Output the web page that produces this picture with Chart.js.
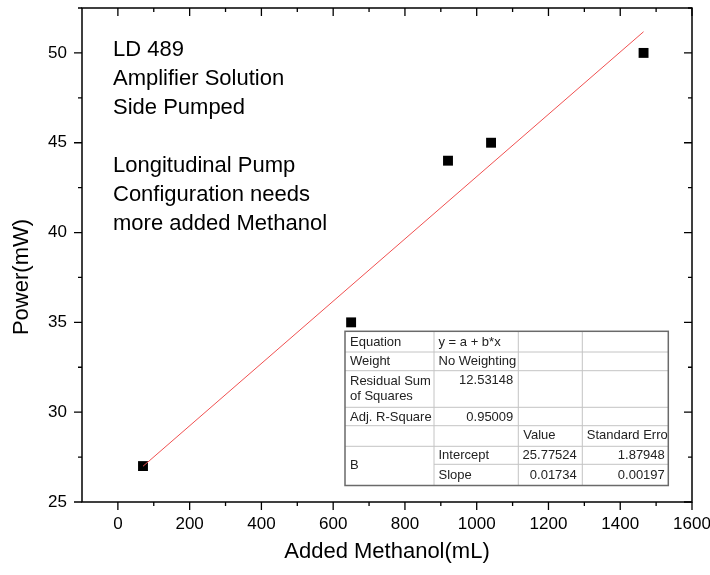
<!DOCTYPE html>
<html>
<head>
<meta charset="utf-8">
<title>Power vs Added Methanol</title>
<script src="https://cdn.jsdelivr.net/npm/chart.js@4.4.0/dist/chart.umd.min.js"></script>
<style>
    html, body { margin: 0; padding: 0; background: #fff; }
    #wrap { position: relative; width: 710px; height: 575px; }
</style>
</head>
<body>
<div id="wrap"><canvas id="powerChart" width="710" height="575"></canvas></div>
<script>
// measured points
const methanol = [70, 650, 920, 1040, 1465];
const power = [27, 35, 44, 45, 50];

// axis ticks
const xTicks = [0, 200, 400, 600, 800, 1000, 1200, 1400, 1600];
const yTicks = [25, 30, 35, 40, 45, 50];
const xMinor = [100, 300, 500, 700, 900, 1100, 1300, 1500];
const yMinor = [27.5, 32.5, 37.5, 42.5, 47.5, 52.5];

// linear fit results (from the stats table)
const fitIntercept = 25.77524;
const fitSlope = 0.01734;

// annotation text
const noteLines = ['LD 489', 'Amplifier Solution', 'Side Pumped', '', 'Longitudinal Pump', 'Configuration needs', 'more added Methanol'];

// stats table
const statLabels = [['Equation'], ['Weight'], ['Residual Sum', 'of Squares'], ['Adj. R-Square']];
const statValues = ['y = a + b*x', 'No Weighting', '12.53148', '0.95009'];
const paramHeader = ['Value', 'Standard Erro'];
const paramNames = ['Intercept', 'Slope'];
const paramValues = ['25.77524', '0.01734'];
const paramErrors = ['1.87948', '0.00197'];

const FONT = '"Liberation Sans", Arial, sans-serif';

const xLo = Math.min(...methanol), xHi = Math.max(...methanol);
const fitLine = [
    { x: xLo, y: fitIntercept + fitSlope * xLo },
    { x: xHi, y: fitIntercept + fitSlope * xHi }
];

// frame, ticks, axis titles, notes
const framePlugin = {
    id: 'frame',
    afterDraw(chart) {
        const ctx = chart.ctx;
        const a = chart.chartArea;
        const xs = chart.scales.x, ys = chart.scales.y;
        ctx.save();
        ctx.strokeStyle = '#000';
        ctx.lineWidth = 1.5;
        ctx.strokeRect(a.left, a.top, a.right - a.left, a.bottom - a.top);

        ctx.lineWidth = 1.3;
        ctx.beginPath();
        const tickX = (v, len) => {
            const px = xs.getPixelForValue(v);
            ctx.moveTo(px, a.bottom); ctx.lineTo(px, a.bottom + len);
            ctx.moveTo(px, a.top); ctx.lineTo(px, a.top + len);
        };
        const tickY = (v, len) => {
            const py = ys.getPixelForValue(v);
            ctx.moveTo(a.left, py); ctx.lineTo(a.left - len, py);
            ctx.moveTo(a.right, py); ctx.lineTo(a.right - len, py);
        };
        xTicks.forEach(v => tickX(v, 8));
        xMinor.forEach(v => tickX(v, 4));
        yTicks.forEach(v => tickY(v, 8));
        yMinor.forEach(v => tickY(v, 4));
        ctx.stroke();

        ctx.fillStyle = '#000';
        ctx.font = '22px ' + FONT;
        ctx.textAlign = 'center';
        ctx.textBaseline = 'middle';
        ctx.fillText('Added Methanol(mL)', (a.left + a.right) / 2, 552);
        ctx.save();
        ctx.translate(22, 277);
        ctx.rotate(-Math.PI / 2);
        ctx.fillText('Power(mW)', 0, 0);
        ctx.restore();

        ctx.textAlign = 'left';
        noteLines.forEach((t, i) => ctx.fillText(t, 113, 50 + i * 29));
        ctx.restore();
    }
};

// Origin-style parameter table
const tablePlugin = {
    id: 'statsTable',
    afterDraw(chart) {
        const ctx = chart.ctx;
        const cols = [345, 434, 518.3, 582.3, 668.3];
        const rows = [331.3, 352, 370.7, 407.3, 425.7, 446.3, 464.3, 485.5];
        ctx.save();
        ctx.fillStyle = '#fff';
        ctx.fillRect(cols[0], rows[0], cols[4] - cols[0], rows[7] - rows[0]);

        ctx.strokeStyle = '#c4c4c4';
        ctx.lineWidth = 1;
        ctx.beginPath();
        for (let i = 1; i < rows.length - 1; i++) {
            const x0 = i === 6 ? cols[1] : cols[0];
            ctx.moveTo(x0, rows[i]); ctx.lineTo(cols[4], rows[i]);
        }
        for (let j = 1; j < cols.length - 1; j++) {
            ctx.moveTo(cols[j], rows[0]); ctx.lineTo(cols[j], rows[7]);
        }
        ctx.stroke();
        ctx.strokeStyle = '#6a6a6a';
        ctx.lineWidth = 1.5;
        ctx.strokeRect(cols[0], rows[0], cols[4] - cols[0], rows[7] - rows[0]);

        ctx.fillStyle = '#222';
        ctx.font = '13px ' + FONT;
        ctx.textBaseline = 'middle';
        const left = (t, x, y) => { ctx.textAlign = 'left'; ctx.fillText(t, x, y); };
        const right = (t, x, y) => { ctx.textAlign = 'right'; ctx.fillText(t, x, y); };

        const labY = [[342], [361.3], [381.3, 396.3], [417.3]];
        statLabels.forEach((lines, i) => lines.forEach((t, k) => left(t, cols[0] + 5, labY[i][k])));
        left(statValues[0], cols[1] + 4.5, 342);
        left(statValues[1], cols[1] + 4.5, 361.3);
        right(statValues[2], cols[2] - 5, 380);
        right(statValues[3], cols[2] - 5, 417.3);

        left(paramHeader[0], cols[2] + 5, 435.5);
        left(paramHeader[1], cols[3] + 4.5, 435.5);
        left('B', cols[0] + 5, 465.5);
        const pY = [455, 475];
        paramNames.forEach((t, i) => left(t, cols[1] + 4.5, pY[i]));
        paramValues.forEach((t, i) => right(t, cols[3] - 5.5, pY[i]));
        paramErrors.forEach((t, i) => right(t, cols[4] - 3.5, pY[i]));
        ctx.restore();
    }
};

new Chart(document.getElementById('powerChart'), {
    type: 'scatter',
    data: {
        datasets: [{
            type: 'line',
            label: 'Linear Fit',
            data: fitLine,
            borderColor: '#f05050',
            borderWidth: 1,
            pointRadius: 0,
            fill: false
        }, {
            label: 'Power',
            data: methanol.map((x, i) => ({ x: x, y: power[i] })),
            pointStyle: 'rect',
            pointRadius: 7,
            backgroundColor: '#000',
            borderColor: '#000',
            borderWidth: 0
        }]
    },
    options: {
        responsive: false,
        animation: false,
        layout: { padding: { top: 8, right: 18, left: 0, bottom: 0 } },
        plugins: {
            legend: { display: false },
            tooltip: { enabled: false }
        },
        scales: {
            x: {
                type: 'linear',
                min: -100,
                max: 1600,
                grid: { display: false, drawTicks: false },
                border: { display: false },
                ticks: {
                    color: '#000',
                    font: { family: FONT, size: 17 },
                    padding: 12,
                    maxRotation: 0,
                    autoSkip: false,
                    callback: v => String(v)
                },
                afterBuildTicks: s => { s.ticks = xTicks.map(v => ({ value: v })); },
                afterFit: s => { s.height = 73; s.paddingLeft = 0; s.paddingRight = 0; }
            },
            y: {
                type: 'linear',
                min: 25,
                max: 52.5,
                grid: { display: false, drawTicks: false },
                border: { display: false },
                ticks: {
                    color: '#000',
                    font: { family: FONT, size: 17 },
                    padding: 15,
                    autoSkip: false,
                    callback: v => String(v)
                },
                afterBuildTicks: s => { s.ticks = yTicks.map(v => ({ value: v })); },
                afterFit: s => { s.width = 82; s.paddingTop = 0; s.paddingBottom = 0; }
            }
        }
    },
    plugins: [framePlugin, tablePlugin]
});
</script>
</body>
</html>
